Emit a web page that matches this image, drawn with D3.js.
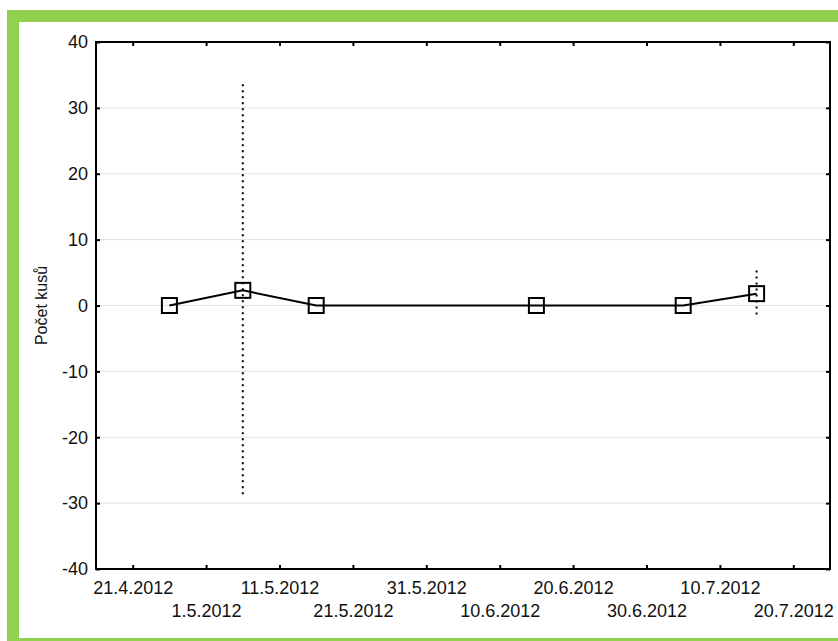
<!DOCTYPE html>
<html>
<head>
<meta charset="utf-8">
<script src="https://cdn.jsdelivr.net/npm/d3@7"></script>
<style>
  html, body { margin: 0; padding: 0; background: #fff; }
  svg { display: block; }
  text { font-family: "Liberation Sans", Arial, sans-serif; fill: #111; }
</style>
</head>
<body>
<script>
// Observation dates and measured counts
const dates = ["26.4.2012", "6.5.2012", "16.5.2012", "15.6.2012", "5.7.2012", "15.7.2012"];
const values = [0, 2.3, 0, 0, 0, 1.8];
// Whisker ends (only where a spread was recorded)
const upper = [null, 33.6, null, null, null, 5.3];
const lower = [null, -29.2, null, null, null, -1.6];

// Axis ticks
const xTickLabels = ["21.4.2012", "1.5.2012", "11.5.2012", "21.5.2012", "31.5.2012",
                     "10.6.2012", "20.6.2012", "30.6.2012", "10.7.2012", "20.7.2012"];
const yTicks = [-40, -30, -20, -10, 0, 10, 20, 30, 40];
const xDomain = ["16.4.2012", "25.7.2012"];
const yDomain = [-40, 40];
const yTitle = "Počet kusů";

const parse = d3.timeParse("%d.%m.%Y");
const fmt = d => `${d.getDate()}.${d.getMonth() + 1}.${d.getFullYear()}`;

const W = 838, H = 641;
const FS = 18;
const svg = d3.select("body").append("svg").attr("width", W).attr("height", H);

// Green frame
svg.append("rect").attr("x", 7).attr("y", 10).attr("width", W).attr("height", H)
  .attr("fill", "#92d050");
svg.append("rect").attr("x", 19).attr("y", 22).attr("width", W).attr("height", 616)
  .attr("fill", "#fff");

const m = { left: 96, top: 42, right: 830, bottom: 569 };

const x = d3.scaleTime().domain(xDomain.map(parse)).range([m.left, m.right]);
const y = d3.scaleLinear().domain(yDomain).range([m.bottom, m.top]);

const g = svg.append("g");

// Horizontal grid
g.append("g").selectAll("line").data(yTicks.filter(t => t !== yDomain[0] && t !== yDomain[1]))
  .join("line")
  .attr("x1", m.left).attr("x2", m.right)
  .attr("y1", d => y(d)).attr("y2", d => y(d))
  .attr("stroke", "#e2e2e2").attr("stroke-width", 1);

const xTickDates = xTickLabels.map(parse);

// Bottom axis: inward ticks, labels staggered over two rows
const xAxis = g.append("g").attr("transform", `translate(0,${m.bottom})`)
  .call(d3.axisBottom(x).tickValues(xTickDates).tickSize(-4).tickFormat(fmt));
xAxis.select(".domain").remove();
xAxis.selectAll(".tick line").attr("stroke", "#000").attr("stroke-width", 2);
xAxis.selectAll(".tick text")
  .attr("font-size", FS)
  .attr("y", (d, i) => i % 2 === 0 ? 12 : 35.5)
  .attr("dy", "0.71em");

// Top axis ticks
const xTop = g.append("g").attr("transform", `translate(0,${m.top})`)
  .call(d3.axisTop(x).tickValues(xTickDates).tickSize(-4).tickFormat(""));
xTop.select(".domain").remove();
xTop.selectAll(".tick line").attr("stroke", "#000").attr("stroke-width", 2);

// Left axis (plain hyphen for negatives)
const yAxis = g.append("g").attr("transform", `translate(${m.left},0)`)
  .call(d3.axisLeft(y).tickValues(yTicks).tickSize(-4).tickPadding(8)
    .tickFormat(d => String(d)));
yAxis.select(".domain").remove();
yAxis.selectAll(".tick line").attr("stroke", "#000").attr("stroke-width", 2);
yAxis.selectAll(".tick text").attr("font-size", FS);

// Right axis ticks
const yRight = g.append("g").attr("transform", `translate(${m.right},0)`)
  .call(d3.axisRight(y).tickValues(yTicks).tickSize(-4).tickFormat(""));
yRight.select(".domain").remove();
yRight.selectAll(".tick line").attr("stroke", "#000").attr("stroke-width", 2);

// Plot frame
g.append("rect")
  .attr("x", m.left).attr("y", m.top)
  .attr("width", m.right - m.left).attr("height", m.bottom - m.top)
  .attr("fill", "none").attr("stroke", "#000").attr("stroke-width", 2);

// Y title
svg.append("text")
  .attr("transform", `translate(47,${(m.top + m.bottom) / 2}) rotate(-90)`)
  .attr("text-anchor", "middle")
  .attr("font-size", 16)
  .text(yTitle);

const pts = dates.map((d, i) => ({ t: parse(d), v: values[i], hi: upper[i], lo: lower[i] }));

// Dotted whiskers
g.append("g").selectAll("line").data(pts.filter(p => p.hi != null))
  .join("line")
  .attr("x1", p => x(p.t)).attr("x2", p => x(p.t))
  .attr("y1", p => y(p.hi)).attr("y2", p => y(p.lo))
  .attr("stroke", "#000").attr("stroke-width", 2)
  .attr("stroke-dasharray", "2,4");

// Connecting line
g.append("path").datum(pts)
  .attr("d", d3.line().x(p => x(p.t)).y(p => y(p.v)))
  .attr("fill", "none").attr("stroke", "#000").attr("stroke-width", 2);

// Square markers
const s = 15;
g.append("g").selectAll("rect").data(pts)
  .join("rect")
  .attr("x", p => x(p.t) - s / 2).attr("y", p => y(p.v) - s / 2)
  .attr("width", s).attr("height", s)
  .attr("fill", "none").attr("stroke", "#000").attr("stroke-width", 2);
</script>
</body>
</html>
